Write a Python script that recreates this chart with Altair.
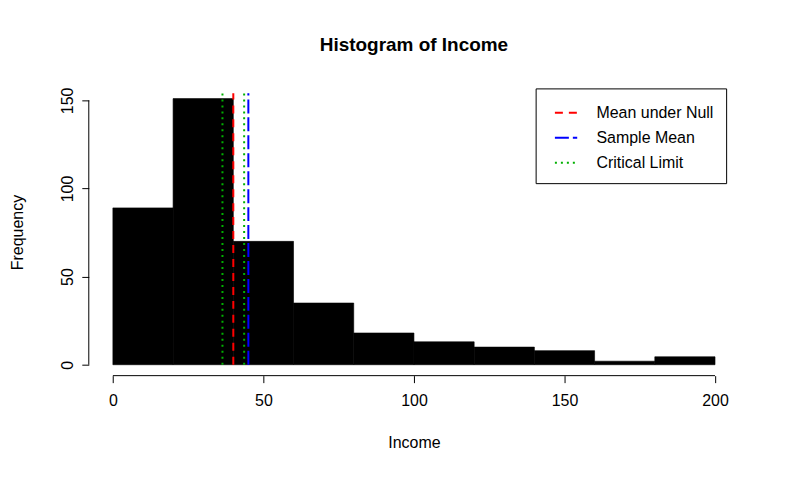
import altair as alt
import pandas as pd

# histogram bins (Income) and counts
bin_start = [0, 20, 40, 60, 80, 100, 120, 140, 160, 180]
bin_end = [20, 40, 60, 80, 100, 120, 140, 160, 180, 200]
counts = [89, 151, 70, 35, 18, 13, 10, 8, 2, 4.5]

# reference lines
line_x = [40, 45, 36.4, 43.6]
line_label = ["Mean under Null", "Sample Mean", "Critical Limit", "Critical Limit"]
line_top = 154

labels = ["Mean under Null", "Sample Mean", "Critical Limit"]
colors = ["red", "blue", "#00b000"]
dashes = [[8, 6], [14, 4], [2, 4]]

bars = pd.DataFrame({"x0": bin_start, "x1": bin_end, "n": counts})
lines = pd.DataFrame({"x": line_x, "lab": line_label, "y0": 0, "y1": line_top})

W, H = 652, 288
xs = alt.Scale(domain=[-8, 208], nice=False, zero=False)
ys = alt.Scale(domain=[-6.2, 156.8], nice=False, zero=False)

hist = alt.Chart(bars).mark_rect(color="black", stroke="black", strokeWidth=0.6).encode(
    x=alt.X("x0:Q", scale=xs, title="Income",
            axis=alt.Axis(values=[0, 50, 100, 150, 200], domain=False, grid=False,
                          tickSize=7, tickColor="black", labelFontSize=16,
                          labelPadding=10, titleFontSize=16, titlePadding=26,
                          titleFontWeight="normal", labelColor="black")),
    x2="x1:Q",
    y=alt.Y("n:Q", scale=ys, title="Frequency",
            axis=alt.Axis(values=[0, 50, 100, 150], domain=False, grid=False,
                          tickSize=7, tickColor="black", labelFontSize=16,
                          labelAngle=-90, labelAlign="center", labelBaseline="bottom",
                          labelPadding=6, titleFontSize=16, titlePadding=34,
                          titleFontWeight="normal", labelColor="black")),
    y2=alt.datum(0),
)

vlines = alt.Chart(lines).mark_rule(strokeWidth=2).encode(
    x=alt.X("x:Q", scale=xs),
    y=alt.Y("y0:Q", scale=ys),
    y2="y1:Q",
    color=alt.Color("lab:N", scale=alt.Scale(domain=labels, range=colors),
                    title=None,
                    legend=alt.Legend(orient="none", legendX=448, legendY=0,
                                      symbolType="stroke", symbolDash=[2, 2],
                                      symbolStrokeWidth=2, symbolSize=500,
                                      symbolOffset=6, labelOffset=18,
                                      labelFontSize=16, labelColor="black",
                                      strokeColor="black", padding=12,
                                      rowPadding=4, labelLimit=300)),
    strokeDash=alt.StrokeDash("lab:N", scale=alt.Scale(domain=labels, range=dashes),
                              legend=None),
)

xaxis = alt.Chart(pd.DataFrame({"a": [0], "b": [200]})).mark_rule(color="black").encode(
    x=alt.X("a:Q", scale=xs), x2="b:Q", y=alt.value(H))
yaxis = alt.Chart(pd.DataFrame({"a": [0], "b": [150]})).mark_rule(color="black").encode(
    y=alt.Y("a:Q", scale=ys), y2="b:Q", x=alt.value(0))

chart = alt.layer(hist, vlines, xaxis, yaxis).properties(
    width=W, height=H,
    title=alt.Title("Histogram of Income", fontSize=19, fontWeight="bold", offset=32),
    autosize=alt.AutoSizeParams(type="none"),
    padding={"left": 81, "top": 80, "right": 40, "bottom": 100},
).configure(font="Liberation Sans").configure_view(stroke=None)

chart.save("out.html", embed_options={"renderer": "svg", "actions": False})
